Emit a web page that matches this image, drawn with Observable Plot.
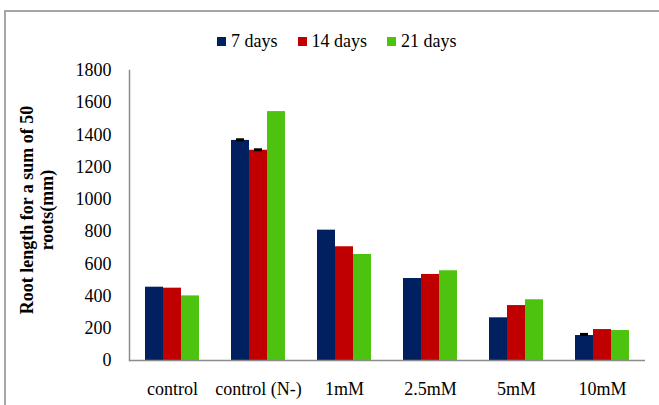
<!DOCTYPE html>
<html>
<head>
<meta charset="utf-8">
<script src="https://cdn.jsdelivr.net/npm/d3@7"></script>
<script src="https://cdn.jsdelivr.net/npm/@observablehq/plot@0.6"></script>
<style>
  body { margin: 0; background: #fff; }
  #wrap { position: relative; width: 659px; height: 405px; overflow: hidden; font-family: "Liberation Serif", "Times New Roman", serif; }
  #frame { position: absolute; left: 4px; top: 10px; width: 700px; height: 500px; border-top: 2px solid #a6a6a6; border-left: 2px solid #a6a6a6; }
  #chart { position: absolute; left: 0; top: 0; }
  #legend { position: absolute; left: 217px; top: 30px; display: flex; gap: 20px; font-size: 18px; line-height: 22px; color: #000; }
  #legend .item { display: flex; align-items: center; }
  #legend .sw { width: 9px; height: 9px; margin-right: 5px; }
  #ytitle { position: absolute; left: 37px; top: 210px; transform: translate(-50%, -50%) rotate(-90deg); white-space: pre; text-align: center; font-weight: bold; font-size: 18px; line-height: 20px; color: #000; }
</style>
</head>
<body>
<div id="wrap">
  <div id="frame"></div>
  <div id="chart"></div>
  <div id="legend"></div>
  <div id="ytitle"></div>
</div>
<script>
const categories = ["control", "control (N-)", "1mM", "2.5mM", "5mM", "10mM"];
const series = ["7 days", "14 days", "21 days"];
const colors = ["#002060", "#c00000", "#4ec30f"];
const days7 = [455, 1366, 809, 509, 265, 155];
const days14 = [449, 1305, 706, 534, 341, 192];
const days21 = [401, 1545, 658, 557, 377, 186];
const err7 = [0, 4, 0, 0, 0, 7];
const err14 = [0, 3, 0, 0, 0, 0];
const err21 = [0, 0, 0, 0, 0, 0];
const yTicks = [0, 200, 400, 600, 800, 1000, 1200, 1400, 1600, 1800];
const yTitle = "Root length for a sum of 50\nroots(mm)";

const valuesBySeries = [days7, days14, days21];
const errBySeries = [err7, err14, err21];
const rows = [];
categories.forEach((c, i) => {
  series.forEach((s, j) => {
    rows.push({category: c, series: s, value: valuesBySeries[j][i], err: errBySeries[j][i]});
  });
});
const errRows = rows.filter(d => d.err > 0);

const chart = Plot.plot({
  width: 659,
  height: 405,
  marginTop: 70,
  marginBottom: 45,
  marginLeft: 128,
  marginRight: 13,
  style: {fontFamily: '"Liberation Serif", "Times New Roman", serif', fontSize: "18px", color: "#000", background: "transparent"},
  fx: {domain: categories, padding: 0, label: null, tickSize: 0, tickPadding: 22},
  x: {domain: series, axis: null, paddingInner: 0, paddingOuter: 0.77},
  y: {domain: [0, 1800]},
  color: {domain: series, range: colors},
  marks: [
    Plot.axisY({ticks: yTicks, tickFormat: d3.format("d"), tickSize: 0, tickPadding: 18, label: null}),
    Plot.frame({anchor: "left", facetAnchor: "left", stroke: "#8c8c8c", strokeWidth: 1.5}),
    Plot.barY(rows, {fx: "category", x: "series", y: "value", fill: "series"}),
    Plot.tickY(errRows, {fx: "category", x: "series", y: d => d.value + d.err, stroke: "#000", strokeWidth: 3, insetLeft: 5, insetRight: 5}),
    Plot.ruleY([0], {stroke: "#8c8c8c", strokeWidth: 1.5})
  ]
});
document.getElementById("chart").appendChild(chart);

const legend = document.getElementById("legend");
series.forEach((s, j) => {
  const item = document.createElement("div");
  item.className = "item";
  const sw = document.createElement("span");
  sw.className = "sw";
  sw.style.background = colors[j];
  const t = document.createElement("span");
  t.textContent = s;
  item.appendChild(sw);
  item.appendChild(t);
  legend.appendChild(item);
});
document.getElementById("ytitle").textContent = yTitle;
</script>
</body>
</html>
